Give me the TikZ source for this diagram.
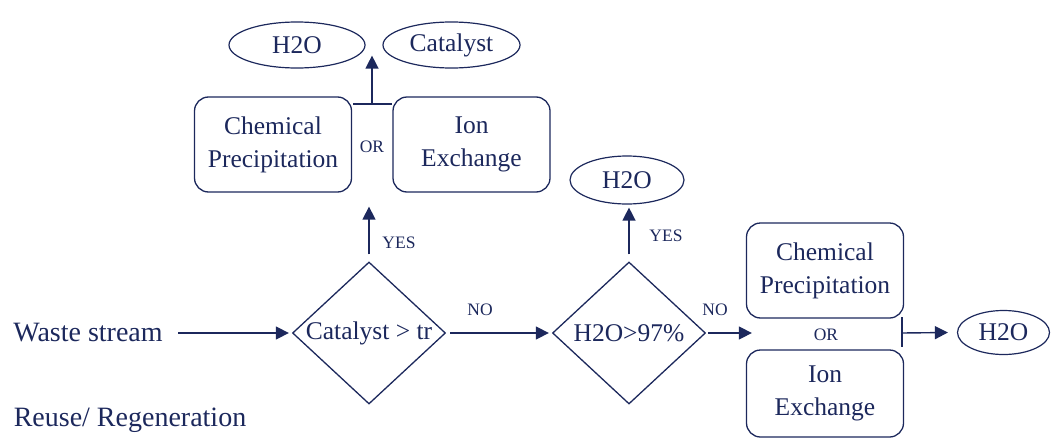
\documentclass[tikz,border=0pt]{standalone}
\usepackage{fontspec}
\setmainfont{Liberation Serif}
\usetikzlibrary{shapes.geometric,arrows.meta}
\definecolor{navy}{RGB}{28,40,92}
\begin{document}
\begin{tikzpicture}[x=1pt,y=-1pt,
  every node/.style={text=navy},
  main/.style={font=\fontsize{25.5}{33}\selectfont},
  side/.style={font=\fontsize{28}{32}\selectfont},
  small/.style={font=\fontsize{17.5}{20}\selectfont},
  box/.style={draw=navy,line width=1.3pt,rectangle,rounded corners=14pt,
    minimum width=157pt,align=center,main},
  oval/.style={draw=navy,line width=1.2pt,ellipse,inner sep=0pt,main},
  dec/.style={draw=navy,line width=1.3pt,diamond,inner sep=0pt,
    minimum width=153pt,minimum height=142pt},
  link/.style={draw=navy,line width=1.4pt},
  arr/.style={link,-{Triangle[length=13pt,width=13pt]}}]
\useasboundingbox (0,0) rectangle (1051,439);

% start and end labels
\node[side] (waste) at (88,333) {Waste stream};
\node[side] (reuse) at (130,420) {Reuse/ Regeneration};

% decisions
\node[dec] (d1) at (369,333) {};
\node[main] (d1t) at (d1) {Catalyst > tr};
\node[dec] (d2) at (629,333) {};
\node[main] (d2t) at (d2) {H2O>97\%};

% upper treatment pair
\node[box,minimum height=95pt] (cp1) at (273,144.5) {Chemical\\Precipitation};
\node[box,minimum height=95pt] (ie1) at (471.5,144.5) {Ion\\Exchange};
\node[small] (or1) at (372,147) {OR};
\node[oval,minimum width=136pt,minimum height=46pt] (w1) at (297,45) {H2O};
\node[oval,minimum width=137pt,minimum height=46pt] (cat) at (451.5,45) {Catalyst};

% top of the second decision
\node[oval,minimum width=114pt,minimum height=48pt] (w2) at (627,180) {H2O};

% lower-right treatment pair
\node[box,minimum height=95pt] (cp2) at (825,270.5) {Chemical\\Precipitation};
\node[box,minimum height=87pt] (ie2) at (825,393.5) {Ion\\Exchange};
\node[small] (or2) at (826,335) {OR};
\node[oval,minimum width=92pt,minimum height=44pt] (w3) at (1003.5,332.5) {H2O};

% branch labels
\node[small] (yes1) at (399,243) {YES};
\node[small] (no1) at (480,310) {NO};
\node[small] (yes2) at (666,236) {YES};
\node[small] (no2) at (715,310) {NO};

% junction points
\coordinate (j1) at (372,104);
\coordinate (j1l) at (353,104);
\coordinate (j1r) at (392,104);
\coordinate (j2) at (902,333);
\coordinate (j2t) at (902,317);
\coordinate (j2b) at (902,347);

% connectors
\draw[arr] ([xshift=12pt]waste.east) -- ([xshift=-3pt]d1.west);
\draw[arr] ([xshift=4pt]d1.east) -- ([xshift=-3pt]d2.west);
\draw[arr] ([yshift=7pt]d1.north) -- ([yshift=-14pt]cp1.south -| d1.north);
\draw[arr] ([yshift=7pt]d2.north) -- ([yshift=-3pt]w2.south -| d2.north);
\draw[arr] ([xshift=2pt]d2.east) -- ([xshift=6pt]cp2.west |- d2.east);
\draw[link] (j1l) -- (j1r);
\draw[arr] (j1) -- ([yshift=13pt]w1.south -| j1);
\draw[link] (j2t) -- (j2b);
\draw[arr] (j2) -- ([xshift=-9pt]w3.west);
\end{tikzpicture}
\end{document}
